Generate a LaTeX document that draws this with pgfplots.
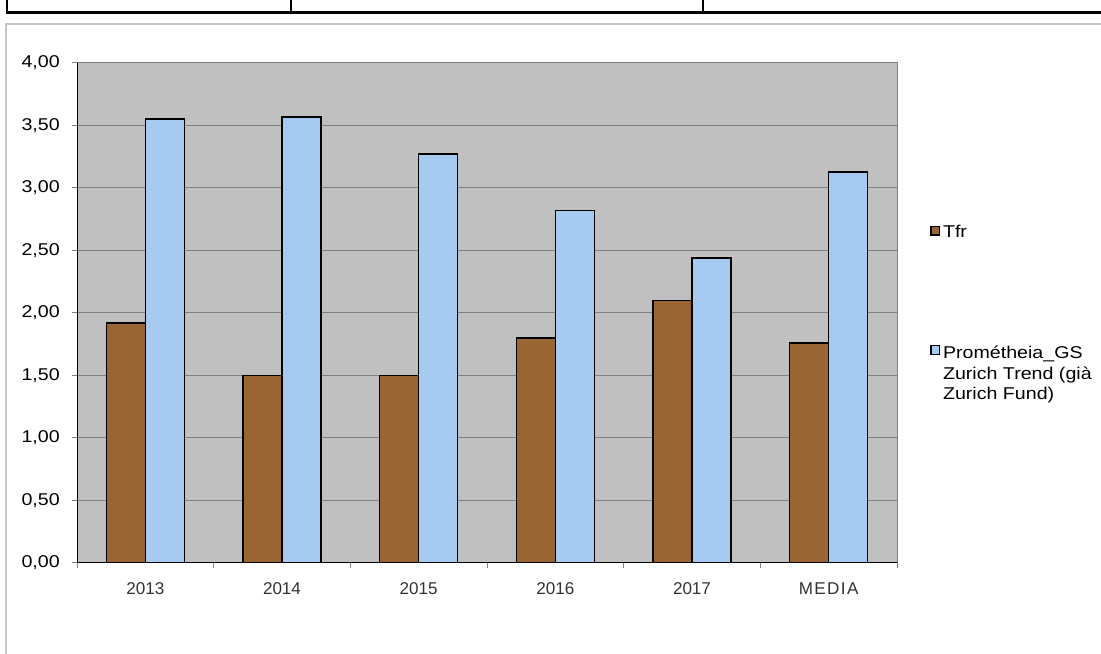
\documentclass[border=0pt]{standalone}
\usepackage{fontspec}
\setmainfont{Liberation Sans}
\newfontfamily\wide{Liberation Sans}[FakeStretch=1.15]
\usepackage{pgfplots}
\pgfplotsset{compat=1.18}

\definecolor{tfr}{HTML}{996633}
\definecolor{prom}{HTML}{A6CAF0}
\definecolor{plotbg}{HTML}{C0C0C0}
\definecolor{gridc}{HTML}{808080}

\begin{document}
\begin{tikzpicture}
\useasboundingbox (0,0) rectangle (825.75pt,490.5pt);
% bits of the table above and the chart frame
\draw[black, line width=2.25pt] (4.5pt,481pt) -- (825.75pt,481pt);
\foreach \xx in {5.25,218.25,527.25}
  \draw[black, line width=1.5pt] (\xx pt,491pt) -- (\xx pt,481pt);
\draw[gray!45, line width=1.5pt] (825.75pt,472.5pt) -- (4.5pt,472.5pt) -- (4.5pt,0pt);

\begin{axis}[
    at={(57.75pt,68.25pt)}, anchor=south west,
    scale only axis,
    width=615pt, height=375pt,
    ybar=0pt, bar width=29.25pt,
    xmin=-0.5, xmax=5.5,
    ymin=0, ymax=4,
    ytick={0,0.5,...,4},
    xtick={0,...,5},
    xticklabels={2013,2014,2015,2016,2017,{\addfontfeature{LetterSpace=8}MEDIA}},
    minor xtick={-0.5,0.5,...,5.5},
    tick pos=left,
    major x tick style={draw=none},
    minor x tick style={gridc, line width=0.75pt},
    y tick style={gridc, line width=0.75pt},
    tick align=outside,
    major tick length=3.75pt, minor tick length=3.75pt,
    axis background/.style={fill=plotbg},
    axis line style={gridc, line width=0.75pt},
    ymajorgrids, grid style={gridc, line width=0.75pt},
    /pgf/number format/.cd, fixed, fixed zerofill, precision=2, use comma, assume math mode=true,
    /pgfplots/.cd,
    yticklabel style={font=\wide\fontsize{12.8}{15}\selectfont, inner sep=0pt, xshift=-9pt},
    xticklabel style={font=\fontsize{12.8}{15}\selectfont, text=black!80, inner sep=0pt, yshift=-10.5pt},
    legend style={at={(1.0402,0.682)}, anchor=north west, draw=none, fill=none, inner sep=0pt,
        font=\wide\fontsize{12.8}{15.4}\selectfont, row sep=74.5pt,
        cells={anchor=north west}},
    legend image code/.code={\draw[#1, line width=1pt] (0pt,-9.6pt) rectangle (6.6pt,-3pt);},
    every axis plot/.append style={draw=black, line width=1.2pt},
]
\addplot[fill=tfr] coordinates {(0,1.92) (1,1.50) (2,1.50) (3,1.80) (4,2.10) (5,1.76)};
\addplot[fill=prom] coordinates {(0,3.55) (1,3.57) (2,3.27) (3,2.82) (4,2.44) (5,3.13)};
\legend{Tfr, {\begin{tabular}[t]{@{}l@{}}Prométheia\_GS\\Zurich Trend (già\\Zurich Fund)\end{tabular}}}
\draw[black, line width=1.2pt] (axis cs:-0.5,4) -- (axis cs:-0.5,0) -- (axis cs:5.5,0);
\end{axis}
\end{tikzpicture}
\end{document}
